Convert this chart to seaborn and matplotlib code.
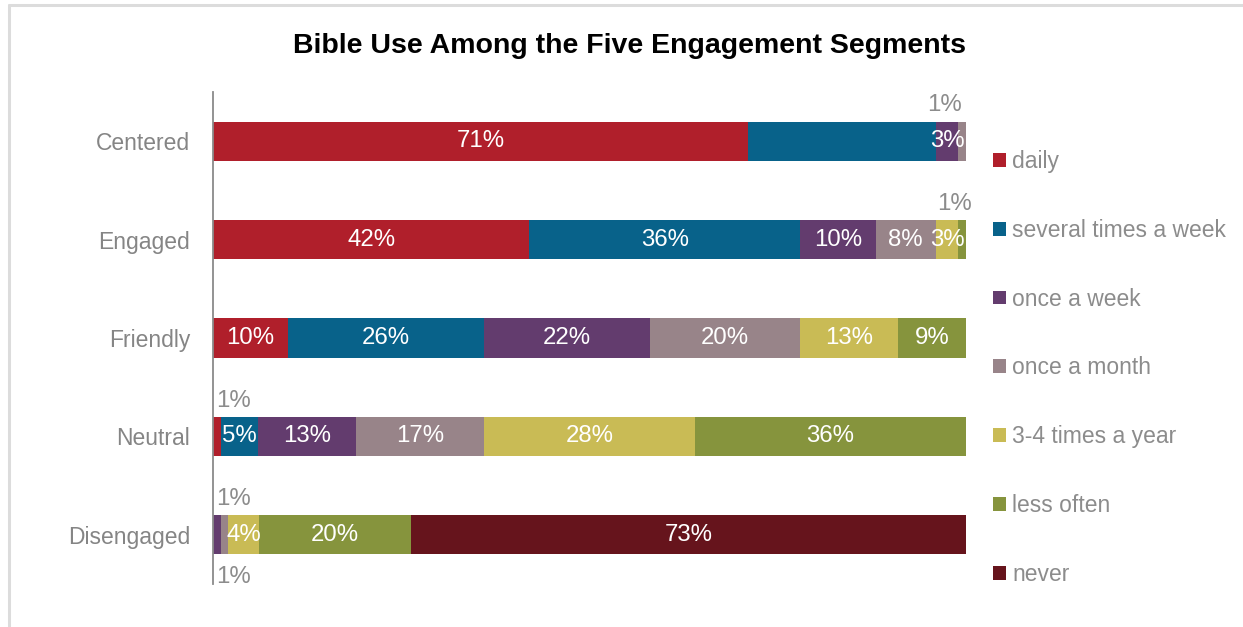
import matplotlib
matplotlib.use("Agg")
import matplotlib.pyplot as plt
from matplotlib.patches import Patch
from matplotlib.lines import Line2D
import seaborn as sns
import pandas as pd
import numpy as np

# Data: share of each engagement segment by frequency of Bible use (%)
segments = ["Centered", "Engaged", "Friendly", "Neutral", "Disengaged"]
frequencies = ["daily", "several times a week", "once a week", "once a month",
               "3-4 times a year", "less often", "never"]
daily = [71, 42, 10, 1, 0]
several_week = [25, 36, 26, 5, 0]
once_week = [3, 10, 22, 13, 1]
once_month = [1, 8, 20, 17, 1]
few_year = [0, 3, 13, 28, 4]
less_often = [0, 1, 9, 36, 20]
never = [0, 0, 0, 0, 73]
colors = ["#B01F2B", "#08628A", "#633C6E", "#988489", "#C9BB55", "#86943D", "#66141C"]

sns.set_theme(style="white")
plt.rcParams["font.family"] = ["Liberation Sans", "DejaVu Sans"]

values = np.array([daily, several_week, once_week, once_month, few_year, less_often, never], dtype=float)
row_tot = values.sum(axis=0)
shares = values / row_tot * 100          # each bar fills 0-100
cum = np.cumsum(shares, axis=0)
starts = cum - shares

fig = plt.figure(figsize=(12.43, 6.27), dpi=100)
ax = fig.add_axes([213 / 1243, 43 / 627, 753 / 1243, 492 / 627])

# Stacked bars: draw cumulative totals from the last series back to the first
for k in range(len(frequencies) - 1, -1, -1):
    df = pd.DataFrame({"segment": segments, "cum": cum[k]})
    sns.barplot(data=df, x="cum", y="segment", orient="h", color=colors[k],
                width=0.4, saturation=1, edgecolor="none", linewidth=0, ax=ax)

ax.set_xlim(0, 100)
ax.set_ylim(4.5, -0.5)
ax.set_xlabel("")
ax.set_ylabel("")
ax.set_xticks([])
for s in ["top", "right", "bottom"]:
    ax.spines[s].set_visible(False)
ax.spines["left"].set_color("#8a8a8a")
ax.spines["left"].set_linewidth(1.3)
ax.tick_params(axis="y", length=0, pad=16.5, labelsize=16.5, labelcolor="#858585")

# Value labels; small segments get a grey label just outside the bar
label_kw = dict(fontsize=17.3, va="center", ha="center")
outside = {(0, 3): (-0.37, 97.2), (1, 5): (-0.365, 98.5), (3, 0): (-0.36, 2.7),
           (4, 2): (-0.36, 2.7), (4, 3): (0.43, 2.7)}
for k in range(len(frequencies)):
    for i in range(len(segments)):
        v = values[k, i]
        if v <= 0:
            continue
        xc = starts[k, i] + shares[k, i] / 2
        txt = f"{int(v)}%"
        if (i, k) in outside:
            dy, x = outside[(i, k)]
            ax.text(x, i + dy, txt, color="#8c8c8c", **label_kw)
        elif (i, k) == (0, 1):
            continue
        else:
            ax.text(xc, i, txt, color="white", **label_kw)

# Legend
handles = [Patch(facecolor=c, edgecolor="none", label=l) for c, l in zip(colors, frequencies)]
leg = fig.legend(handles=handles, loc="upper left", bbox_to_anchor=(993 / 1243, 1 - 150 / 627),
                 frameon=False, fontsize=16.5, handlelength=0.55, handleheight=0.55,
                 handletextpad=0.3, labelspacing=2.0, borderaxespad=0, borderpad=0)
for t in leg.get_texts():
    t.set_color("#8c8c8c")

fig.text(629.5 / 1243, 1 - 46 / 627, "Bible Use Among the Five Engagement Segments",
         ha="center", va="center", fontsize=20.5, fontweight="bold", color="black")

# Light frame along the top and left edges
fig.add_artist(Line2D([8.5 / 1243, 1], [1 - 4.5 / 627, 1 - 4.5 / 627], color="#dcdcdc", lw=2.2))
fig.add_artist(Line2D([8.5 / 1243, 8.5 / 1243], [0, 1 - 4.5 / 627], color="#dcdcdc", lw=2.2))

fig.savefig("out.png", dpi=100)
